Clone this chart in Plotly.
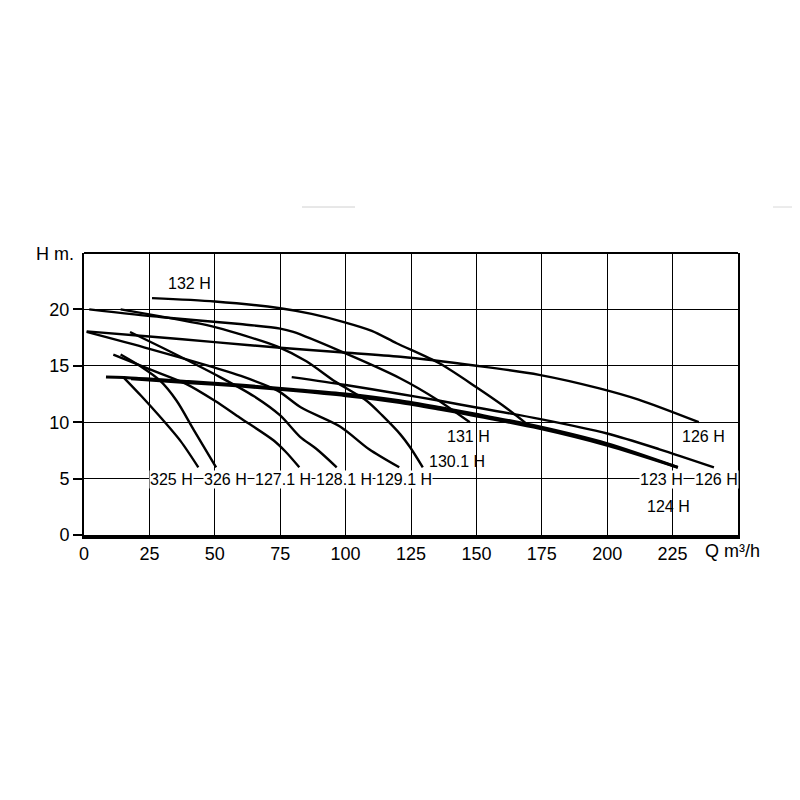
import plotly.graph_objects as go

# ---- data ----
x_132 = [26, 50, 75, 87, 99, 110, 119.5, 136, 150, 160, 169]
y_132 = [21.0, 20.7, 20.1, 19.6, 18.9, 18.1, 17.0, 15.2, 13.1, 11.5, 9.9]

x_131 = [2, 30, 59.6, 75, 80, 98, 120.8, 135, 147.5]
y_131 = [20.0, 19.3, 18.7, 18.3, 18.0, 16.3, 13.9, 12.0, 10.0]

x_126a = [1, 25, 50, 75, 98, 121, 150, 174, 197, 212, 235]
y_126a = [18.05, 17.6, 17.1, 16.6, 16.2, 15.8, 15.0, 14.2, 13.0, 12.0, 10.0]

x_1301 = [14, 49, 59.6, 74, 85, 96, 108, 114, 121, 124.6, 129.5]
y_1301 = [20.0, 18.5, 17.8, 16.7, 15.4, 13.6, 11.9, 10.6, 8.9, 7.8, 6.0]

x_1291 = [1, 25, 49, 60, 74, 83, 98, 109, 120.5]
y_1291 = [18.0, 16.5, 14.9, 14.1, 12.8, 11.3, 9.6, 7.6, 6.0]

x_1281 = [17.6, 30, 52, 65, 75, 82.6, 89, 96.6]
y_1281 = [18.0, 16.6, 14.0, 12.3, 10.6, 8.7, 7.6, 6.0]

x_1271 = [11.2, 25, 39, 50, 59.6, 72.4, 77, 82.3]
y_1271 = [16.0, 14.7, 13.4, 11.9, 10.4, 8.4, 7.4, 6.0]

x_326 = [14, 22, 29, 35.4, 42, 50.5]
y_326 = [16.0, 14.9, 13.7, 11.9, 9.3, 6.0]

x_325 = [15, 22, 29, 37, 43.7]
y_325 = [14.0, 12.3, 10.5, 8.3, 6.0]

x_123 = [8.4, 20, 40, 59.6, 80, 100, 120.8, 136, 150, 174, 200, 227]
y_123 = [14.0, 13.9, 13.6, 13.3, 12.9, 12.5, 11.9, 11.3, 10.7, 9.6, 8.1, 6.0]

x_124 = [18, 40, 59.6, 80, 100, 120.8, 136, 150, 174, 200, 227]
y_124 = [13.85, 13.5, 13.2, 12.8, 12.35, 11.75, 11.15, 10.55, 9.45, 7.95, 6.0]

x_126b = [79.4, 100, 120.8, 136, 150, 174, 200, 220, 240.8]
y_126b = [14.0, 13.3, 12.5, 11.9, 11.3, 10.3, 9.0, 7.6, 6.0]

x_ticks = [0, 25, 50, 75, 100, 125, 150, 175, 200, 225]
y_ticks = [0, 5, 10, 15, 20]

label_text = ["132 H", "325 H", "326 H", "127.1 H", "128.1 H", "129.1 H",
              "130.1 H", "131 H", "126 H", "123 H", "126 H", "124 H"]
label_x = [40.5, 33.6, 54, 76.2, 99.4, 122.4, 142.4, 147, 236.7, 220.8, 241.8, 223.4]
label_y = [22.3, 4.95, 4.95, 4.95, 4.95, 4.95, 6.5, 8.7, 8.7, 4.95, 4.95, 2.5]
label_bg = [False, True, True, True, True, True, False, False, False, True, True, False]

curves = [
    (x_132, y_132, 2.4), (x_131, y_131, 2.4), (x_126a, y_126a, 2.4),
    (x_1301, y_1301, 2.4), (x_1291, y_1291, 2.4), (x_1281, y_1281, 2.4),
    (x_1271, y_1271, 2.4), (x_326, y_326, 2.4), (x_325, y_325, 2.4),
    (x_123, y_123, 3.0), (x_124, y_124, 3.0), (x_126b, y_126b, 2.4),
]

fig = go.Figure()
for xs, ys, w in curves:
    fig.add_trace(go.Scatter(x=xs, y=ys, mode="lines",
                             line=dict(color="black", width=w, shape="spline", smoothing=0.8),
                             showlegend=False, hoverinfo="skip"))

label_font = dict(family="Liberation Sans, Arial, sans-serif", size=16, color="black")
for t, lx, ly, bg in zip(label_text, label_x, label_y, label_bg):
    fig.add_annotation(x=lx, y=ly, xref="x", yref="y", text=t, showarrow=False,
                       font=label_font, bgcolor="white" if bg else "rgba(0,0,0,0)",
                       borderpad=0, xanchor="center", yanchor="middle")

tick_font = dict(family="Liberation Sans, Arial, sans-serif", size=18, color="black")

fig.add_annotation(x=-0.012, y=0.995, xref="paper", yref="paper", text="H m.",
                   showarrow=False, font=tick_font, xanchor="right", yanchor="middle")
fig.add_annotation(x=0.947, y=-0.055, xref="paper", yref="paper", text="Q m³/h",
                   showarrow=False, font=tick_font, xanchor="left", yanchor="middle")

# top edge of frame
fig.add_shape(type="line", xref="paper", yref="paper", x0=0, x1=1, y0=1, y1=1,
              line=dict(color="black", width=2))
# faint scan marks above chart
fig.add_shape(type="line", xref="paper", yref="paper", x0=(302 - 84) / 654, x1=(355 - 84) / 654,
              y0=(535 - 207) / 282, y1=(535 - 207) / 282, line=dict(color="#d0d0d0", width=1))
fig.add_shape(type="line", xref="paper", yref="paper", x0=(773 - 84) / 654, x1=(797 - 84) / 654,
              y0=(535 - 207) / 282, y1=(535 - 207) / 282, line=dict(color="#d8d8d8", width=1))

fig.update_xaxes(range=[0, 250], tickvals=x_ticks, ticktext=[str(v) for v in x_ticks],
                 showgrid=True, gridcolor="black", gridwidth=1.3,
                 showline=True, linecolor="black", linewidth=3.5, mirror=False,
                 ticks="", tickfont=tick_font, zeroline=False, fixedrange=True)
fig.update_yaxes(range=[0, 25], tickvals=y_ticks, ticktext=[str(v) for v in y_ticks],
                 showgrid=True, gridcolor="black", gridwidth=1.3,
                 showline=True, linecolor="black", linewidth=2, mirror=True,
                 ticks="outside", ticklen=9, tickwidth=1.5, tickcolor="black",
                 tickfont=tick_font, zeroline=False, fixedrange=True)

fig.update_layout(width=800, height=800, plot_bgcolor="white", paper_bgcolor="white",
                  margin=dict(l=76, r=70, t=245, b=273), showlegend=False)

fig.write_html("out.html")
